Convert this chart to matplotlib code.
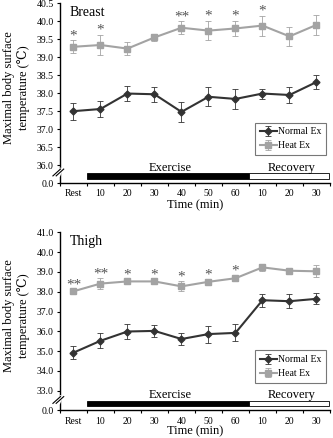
import matplotlib
matplotlib.use('Agg')
import matplotlib.pyplot as plt
import matplotlib.transforms as mtransforms
from matplotlib.patches import Rectangle

plt.rcParams['font.family'] = ['Liberation Serif', 'DejaVu Serif']

# x categories
time_labels = ['Rest', '10', '20', '30', '40', '50', '60', '10', '20', '30']

# Breast
breast_normal = [37.50, 37.56, 37.99, 37.97, 37.48, 37.90, 37.84, 37.99, 37.95, 38.31]
breast_normal_err = [0.24, 0.23, 0.22, 0.21, 0.27, 0.27, 0.29, 0.14, 0.21, 0.19]
breast_heat = [39.29, 39.34, 39.24, 39.55, 39.82, 39.74, 39.80, 39.88, 39.58, 39.90]
breast_heat_err = [0.18, 0.28, 0.18, 0.10, 0.18, 0.27, 0.21, 0.28, 0.27, 0.27]
breast_stars = ['*', '*', '', '', '**', '*', '*', '*', '', '']
breast_ticks = [36.0, 36.5, 37.0, 37.5, 38.0, 38.5, 39.0, 39.5, 40.0, 40.5]

# Thigh
thigh_normal = [34.92, 35.52, 35.99, 36.02, 35.61, 35.86, 35.92, 37.57, 37.52, 37.64]
thigh_normal_err = [0.33, 0.38, 0.37, 0.31, 0.29, 0.43, 0.43, 0.32, 0.35, 0.27]
thigh_heat = [38.02, 38.41, 38.52, 38.52, 38.27, 38.50, 38.68, 39.23, 39.06, 39.03]
thigh_heat_err = [0.10, 0.26, 0.08, 0.08, 0.25, 0.12, 0.12, 0.17, 0.10, 0.30]
thigh_stars = ['**', '**', '*', '*', '*', '*', '*', '', '', '']
thigh_ticks = [33.0, 34.0, 35.0, 36.0, 37.0, 38.0, 39.0, 40.0, 41.0]

dark = '#333333'
light = '#a3a3a3'

fig = plt.figure(figsize=(3.33, 4.38), dpi=100)
ax1 = fig.add_axes([0.180, 0.582, 0.811, 0.4105])
ax2 = fig.add_axes([0.180, 0.0628, 0.811, 0.4068])


def panel(ax, title, normal, nerr, heat, herr, stars, ticks, ybase, ytop, fmt):
    x = list(range(len(time_labels)))
    ax.errorbar(x, normal, yerr=nerr, color=dark, ecolor=dark, elinewidth=0.6,
                capsize=2, capthick=0.6, marker='D', markersize=3.5, lw=1.5,
                label='Normal Ex', zorder=3)
    ax.errorbar(x, heat, yerr=herr, color=light, ecolor=light, elinewidth=0.6,
                capsize=2, capthick=0.6, marker='s', markersize=5, lw=1.5,
                label='Heat Ex', zorder=3)
    for i, s in enumerate(stars):
        if s:
            ax.annotate(s, (i, heat[i] + herr[i]), xytext=(0, -1.5),
                        textcoords='offset points', ha='center', va='bottom',
                        fontsize=11, color='#555555')
    ax.set_xlim(-0.5, 9.5)
    ax.set_ylim(ybase, ytop)
    ax.set_yticks([ybase] + ticks)
    ax.set_yticklabels(['0.0'] + [fmt % t for t in ticks], fontsize=7)
    ax.set_xticks(x)
    ax.set_xticklabels(time_labels, fontsize=7)
    ax.set_xticks([i - 0.5 for i in range(11)], minor=True)
    ax.tick_params(axis='x', which='major', length=0, pad=4.5)
    ax.tick_params(axis='x', which='minor', length=2.5, width=0.8)
    ax.tick_params(axis='y', length=2.5, width=0.8, pad=2)
    for sp in ['top', 'right']:
        ax.spines[sp].set_visible(False)
    ax.spines['left'].set_linewidth(1.0)
    ax.spines['bottom'].set_linewidth(1.0)

    # exercise / recovery bars
    tr = mtransforms.blended_transform_factory(ax.transData, ax.transAxes)
    ax.add_patch(Rectangle((0.5, 0.024), 6.0, 0.03, transform=tr,
                           facecolor='black', edgecolor='black', lw=0.6,
                           clip_on=False))
    ax.add_patch(Rectangle((6.5, 0.024), 2.95, 0.03, transform=tr,
                           facecolor='white', edgecolor='black', lw=0.6,
                           clip_on=False))
    ax.text(3.6, 0.052, 'Exercise', transform=tr, ha='center', va='bottom',
            fontsize=9)
    ax.text(8.08, 0.052, 'Recovery', transform=tr, ha='center', va='bottom',
            fontsize=9)

    # axis break marks
    ta = ax.transAxes
    ax.plot([-0.004, 0.004], [0.046, 0.074], color='white', lw=2.5,
            transform=ta, clip_on=False, zorder=4)
    for dx in (-0.012, 0.0):
        ax.plot([dx - 0.014, dx + 0.014], [0.040, 0.078], color='black',
                lw=0.8, transform=ta, clip_on=False, zorder=5)

    ax.text(0.035, 0.985, title, transform=ta, ha='left', va='top', fontsize=10)
    ax.set_xlabel('Time (min)', fontsize=9, labelpad=1)
    ax.set_ylabel('Maximal body surface\ntemperature (\u2103)', fontsize=9,
                  linespacing=1.15, va='center')
    ax.yaxis.set_label_coords(-0.161, 0.53)
    leg = ax.legend(loc='lower right', bbox_to_anchor=(0.985, 0.155),
                    fontsize=7, frameon=True, fancybox=False, handlelength=1.7,
                    handletextpad=0.1, borderpad=0.5, labelspacing=0.5,
                    borderaxespad=0)
    leg.get_frame().set_edgecolor('#555555')
    leg.get_frame().set_linewidth(0.8)


panel(ax1, 'Breast', breast_normal, breast_normal_err, breast_heat,
      breast_heat_err, breast_stars, breast_ticks, 35.5, 40.5, '%.1f')
panel(ax2, 'Thigh', thigh_normal, thigh_normal_err, thigh_heat,
      thigh_heat_err, thigh_stars, thigh_ticks, 32.0, 41.0, '%.1f')

# keep the lower x label inside the picture
ax2.xaxis.label.set_va('bottom')
ax2.xaxis.set_label_coords(0.5, -0.152)

fig.savefig('out.png', dpi=100)
